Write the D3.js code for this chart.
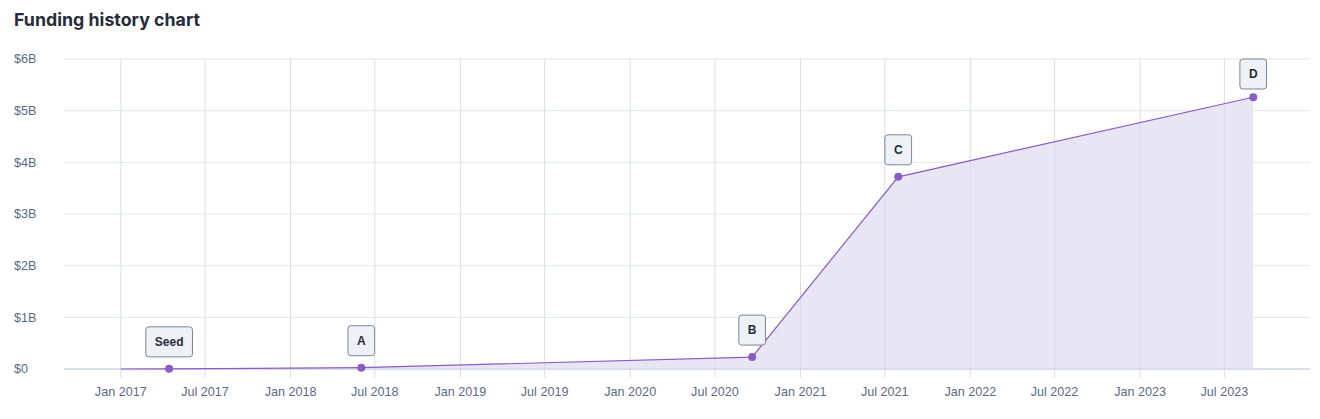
<!DOCTYPE html>
<html><head><meta charset="utf-8">
<script src="https://cdn.jsdelivr.net/npm/d3@7"></script>
<style>
body{margin:0;background:#fff;font-family:"Liberation Sans",Arial,sans-serif;}
</style></head><body>
<svg id="c" width="1320" height="419"></svg>
<script>
const rounds = ["Seed","A","B","C","D"];
const roundDates = ["2017-04-15","2018-06-02","2020-09-19","2021-07-30","2023-09-01"];
const roundValues = [0.003,0.025,0.23,3.72,5.26]; // cumulative funding, $B
const startDate = "2017-01-01";
const yTicks = [0,1,2,3,4,5,6];
const yTickLabels = ["$0","$1B","$2B","$3B","$4B","$5B","$6B"];
const xTickDates = ["2017-01-01","2017-07-01","2018-01-01","2018-07-01","2019-01-01","2019-07-01","2020-01-01","2020-07-01","2021-01-01","2021-07-01","2022-01-01","2022-07-01","2023-01-01","2023-07-01"];
const xTickLabels = ["Jan 2017","Jul 2017","Jan 2018","Jul 2018","Jan 2019","Jul 2019","Jan 2020","Jul 2020","Jan 2021","Jul 2021","Jan 2022","Jul 2022","Jan 2023","Jul 2023"];

(function(){
const parse = d3.utcParse("%Y-%m-%d");
const svg = d3.select("#c");
const pL = 64, pR = 1310, pT = 59, pB = 369;
const x = d3.scaleUtc().domain([parse("2016-09-01"), parse("2024-01-01")]).range([pL, pR]);
const y = d3.scaleLinear().domain([0,6]).range([pB, pT]);

svg.append("text").attr("x",14).attr("y",26).text("Funding history chart")
  .attr("font-family","Inter,'Noto Sans',sans-serif")
  .attr("font-size",17.8).attr("font-weight",700).attr("fill","#262d3a");

svg.append("g").selectAll("line").data(yTicks).join("line")
  .attr("x1",pL).attr("x2",pR).attr("y1",d=>y(d)).attr("y2",d=>y(d))
  .attr("stroke",d=>d===0?"#cfd4de":"#e2e5ec").attr("stroke-width",1);
svg.append("g").selectAll("text").data(yTicks).join("text")
  .attr("x",14).attr("y",d=>y(d)).attr("dy","0.35em")
  .attr("font-size",12.6).attr("fill","#5b6a84").text((d,i)=>yTickLabels[i]);

const xd = xTickDates.map(parse);
const data = rounds.map((r,i)=>({r, date: parse(roundDates[i]), v: roundValues[i]}));
const lineData = [{date: parse(startDate), v: 0}, ...data];

svg.append("path").datum(lineData)
  .attr("d", d3.area().x(d=>x(d.date)).y0(y(0)).y1(d=>y(d.v)))
  .attr("fill","#e8e5f5");

svg.append("g").selectAll("line").data(xd).join("line")
  .attr("x1",d=>x(d)).attr("x2",d=>x(d)).attr("y1",pT).attr("y2",pB+9)
  .attr("stroke","#d6dae3").attr("stroke-width",1).attr("opacity",0.85);
svg.append("line").attr("x1",pL).attr("x2",pR).attr("y1",pB).attr("y2",pB)
  .attr("stroke","#cfd4de");
svg.append("g").selectAll("text").data(xd).join("text")
  .attr("x",d=>x(d)).attr("y",395.5).attr("text-anchor","middle")
  .attr("font-size",12.6).attr("fill","#5b6a84").text((d,i)=>xTickLabels[i]);

svg.append("path").datum(lineData)
  .attr("d", d3.line().x(d=>x(d.date)).y(d=>y(d.v)))
  .attr("fill","none").attr("stroke","#8b5cc4").attr("stroke-width",1.2);

svg.append("g").selectAll("circle").data(data).join("circle")
  .attr("cx",d=>x(d.date)).attr("cy",d=>y(d.v)).attr("r",4).attr("fill","#8b5cc4");

const lg = svg.append("g").selectAll("g").data(data).join("g")
  .attr("transform",d=>`translate(${x(d.date)},${Math.max(pT+30, y(d.v)-12)})`);
lg.each(function(d){
  const g = d3.select(this);
  const t = g.append("text").attr("x",0).attr("y",-15).attr("dy","0.35em")
    .attr("text-anchor","middle").attr("font-size",12).attr("font-weight",700)
    .attr("fill","#252e3c").text(d.r);
  const w = Math.max(25, t.node().getComputedTextLength()+18);
  g.insert("rect","text").attr("x",-w/2).attr("y",-30).attr("width",w).attr("height",30)
    .attr("rx",3).attr("fill","#eef1f6").attr("stroke","#7c8595").attr("stroke-width",1);
});
})();
</script></body></html>
